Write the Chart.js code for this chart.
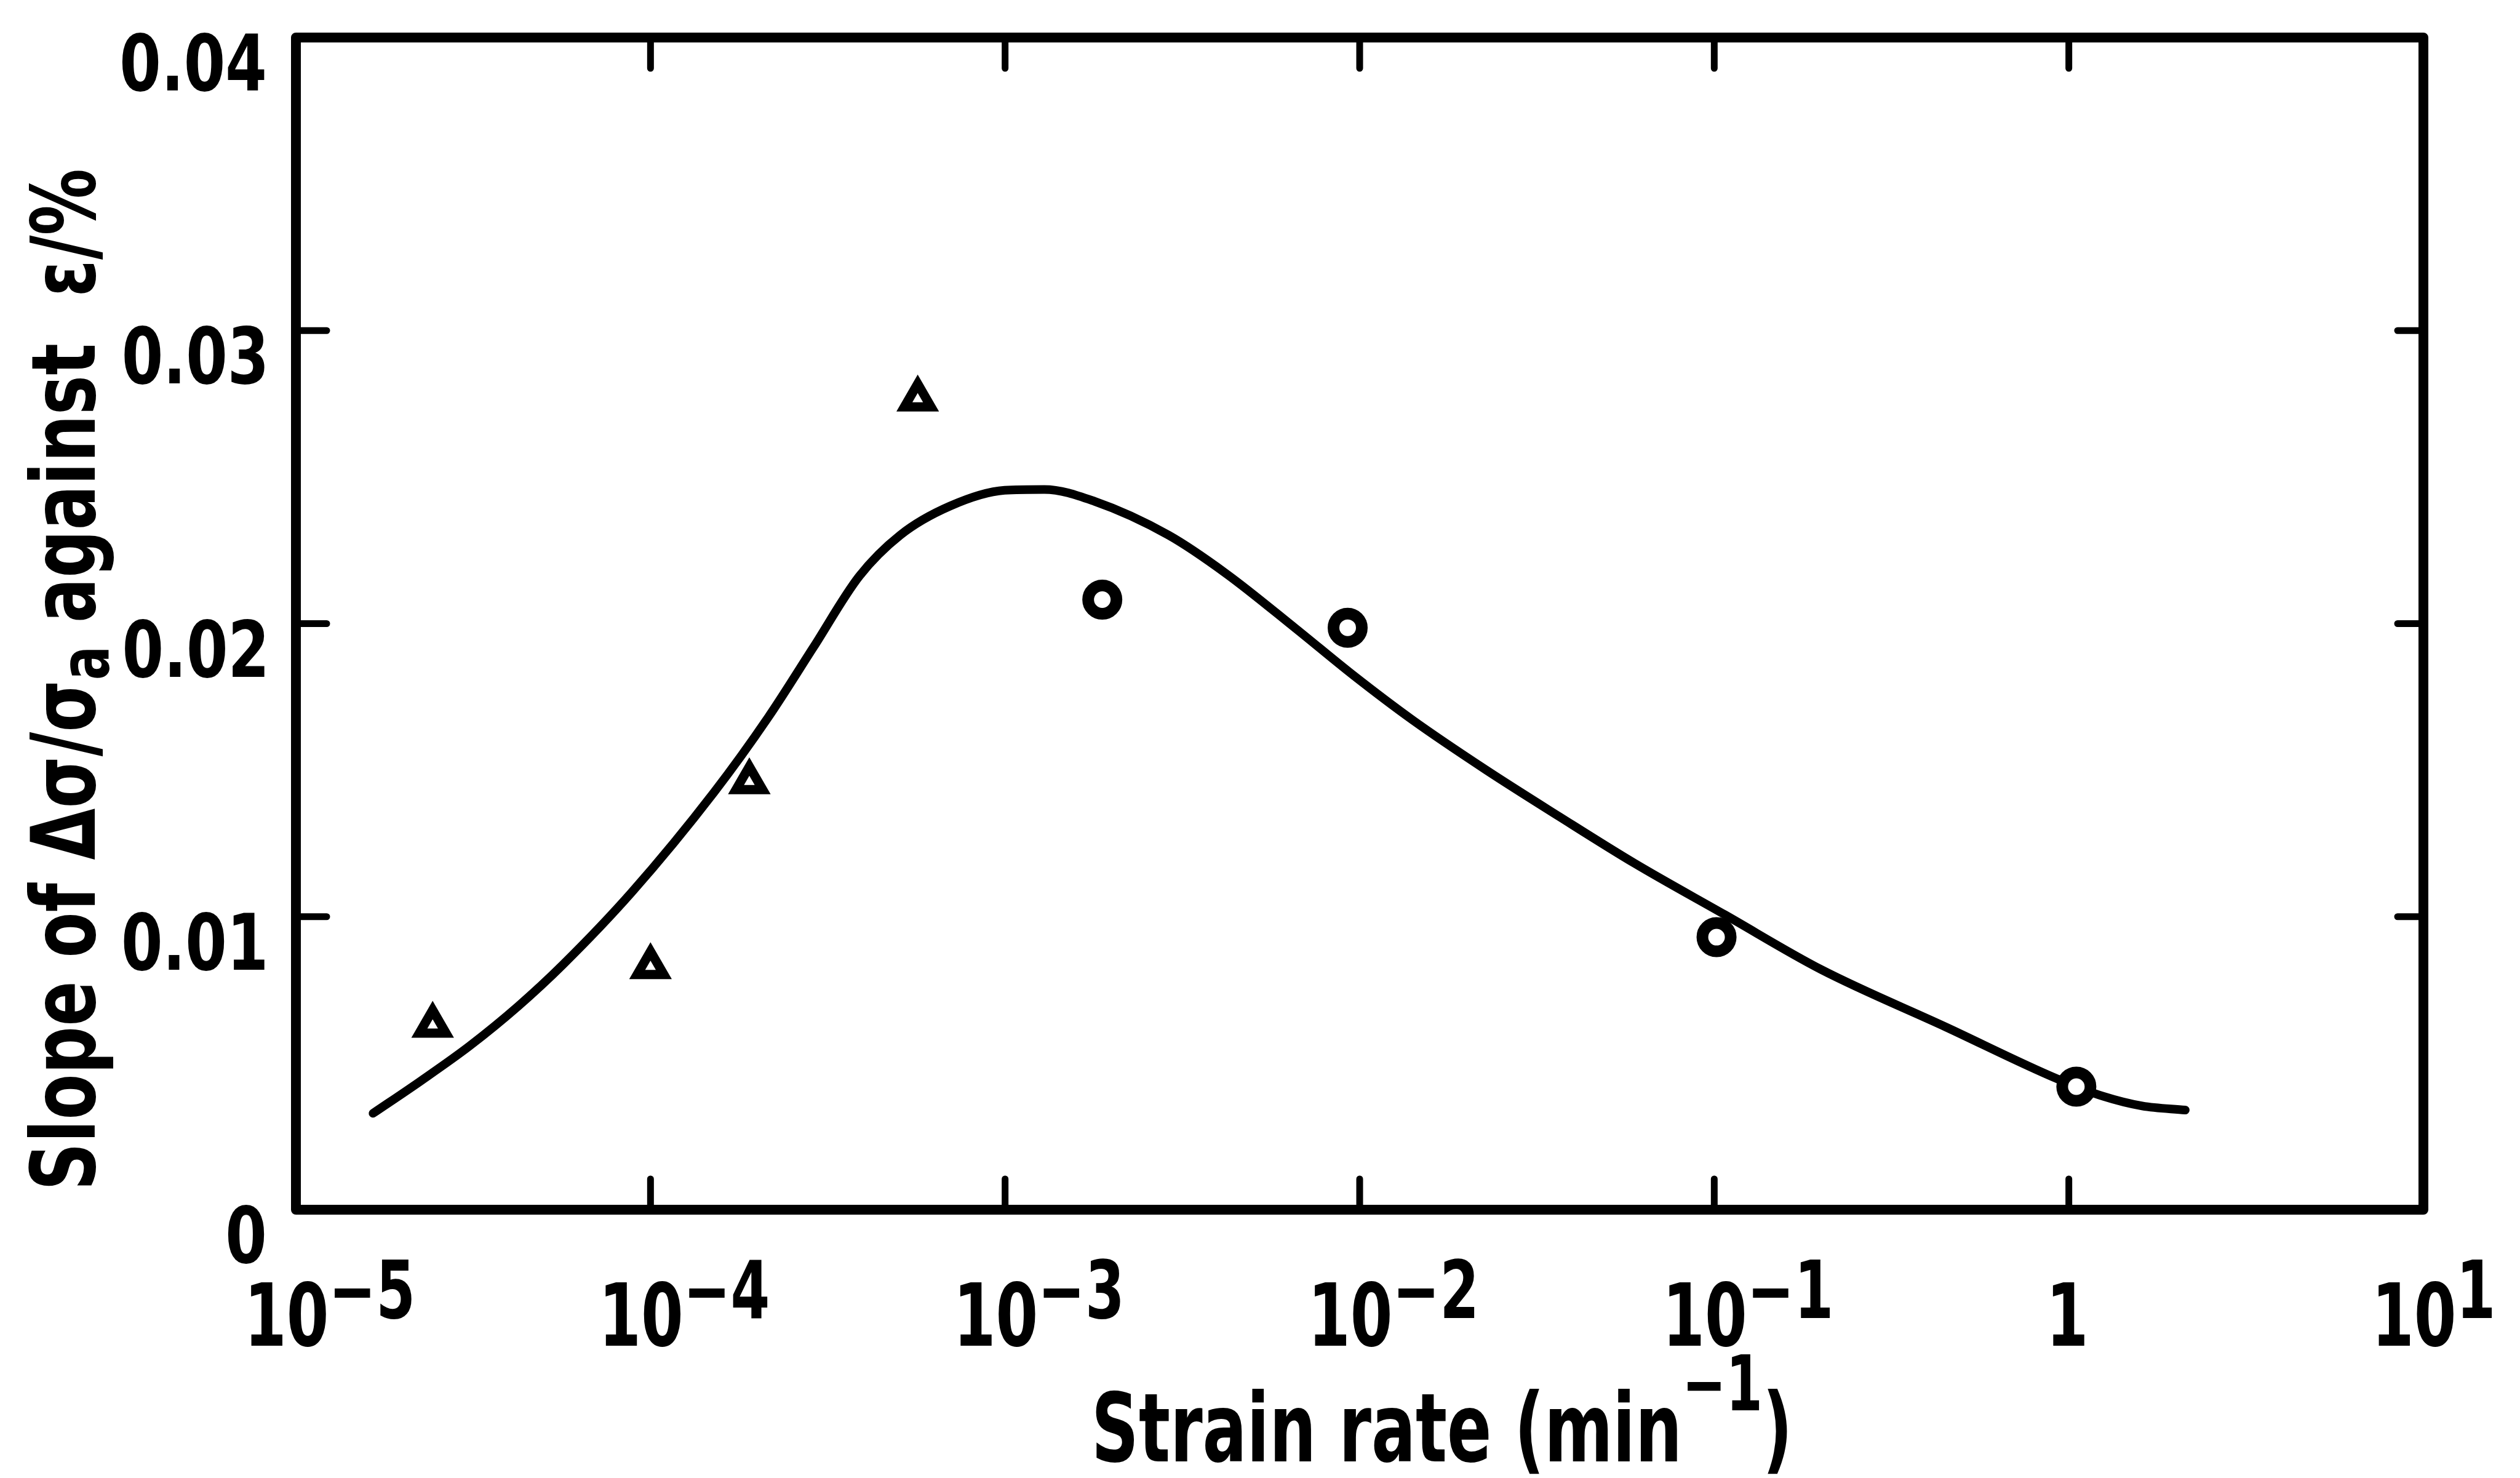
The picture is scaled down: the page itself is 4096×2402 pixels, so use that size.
<!DOCTYPE html>
<html>
<head>
<meta charset="utf-8">
<title>Slope vs strain rate</title>
<script src="https://cdn.jsdelivr.net/npm/chart.js@4.4.1/dist/chart.umd.min.js"></script>
<style>
  html, body { margin: 0; padding: 0; background: #fff; }
  #chart { display: block; }
</style>
</head>
<body>
<canvas id="chart" width="4096" height="2402"></canvas>
<script>
// fitted curve: strain rate (min^-1) and slope
const curveRate = [1.65e-5, 2.24e-5, 3.09e-5, 4.24e-5, 5.65e-5, 8.85e-5, 1.51e-4, 2.15e-4, 2.88e-4, 3.88e-4,
                   5.06e-4, 6.99e-4, 9.97e-4, 1.29e-3, 1.79e-3, 2.89e-3, 4.21e-3, 6.59e-3, 9.59e-3, 0.0141,
                   0.0227, 0.0365, 0.0596, 0.107, 0.200, 0.451, 0.926, 1.25, 1.61, 2.13];
const curveSlope = [0.00329, 0.00438, 0.00559, 0.00695, 0.00835, 0.01083, 0.01424, 0.01681, 0.01919, 0.02162,
                    0.02302, 0.02401, 0.02455, 0.02458, 0.02417, 0.02302, 0.02170, 0.01984, 0.01824, 0.01671,
                    0.01501, 0.01342, 0.01182, 0.01007, 0.00820, 0.00623, 0.00447, 0.00387, 0.00354, 0.00340];

// triangle points
const triRate = [2.43e-5, 1.0e-4, 1.90e-4, 5.67e-4];
const triSlope = [0.00629, 0.00829, 0.0146, 0.02766];

// circle points
const circRate = [1.88e-3, 9.25e-3, 0.1015, 1.05];
const circSlope = [0.02082, 0.01986, 0.0093, 0.0042];

// axes
const xTickExp = [-5, -4, -3, -2, -1, 0, 1];
const yTicks = [0, 0.01, 0.02, 0.03, 0.04];
const yTickLabels = ['0', '0.01', '0.02', '0.03', '0.04'];
const xTitle = 'Strain rate (min';
const yTitleA = 'Slope of \u0394\u03c3/\u03c3';
const yTitleSub = 'a';
const yTitleB = ' against  \u03b5/%';

const FAM = "'Liberation Sans Narrow', 'DejaVu Sans Condensed', 'Liberation Sans', sans-serif";

function pts(xs, ys) {
    return xs.map((v, i) => ({ x: v, y: ys[i] }));
}

function setFont(ctx, size) {
    ctx.font = 'bold ' + size + 'px ' + FAM;
}

function ink(ctx, str) {
    const m = ctx.measureText(str);
    return { l: m.actualBoundingBoxLeft, r: m.actualBoundingBoxRight, w: m.width };
}

// draws pieces one after another, squeezed by k horizontally
function drawRuns(ctx, runs, x, y, k) {
    let cx = x;
    runs.forEach(r => {
        setFont(ctx, r.size);
        ctx.save();
        ctx.translate(cx, y + (r.dy || 0));
        ctx.scale(k, 1);
        ctx.fillText(r.t, 0, 0);
        ctx.restore();
        cx += ctx.measureText(r.t).width * k;
    });
    return cx;
}

function runsWidth(ctx, runs) {
    let w = 0;
    runs.forEach(r => {
        setFont(ctx, r.size);
        w += ctx.measureText(r.t).width;
    });
    return w;
}

const framePlugin = {
    id: 'frame',
    afterDraw(chart) {
        const ctx = chart.ctx;
        const a = chart.chartArea;
        const x = chart.scales.x;
        const y = chart.scales.y;
        ctx.save();
        ctx.fillStyle = '#000';
        ctx.strokeStyle = '#000';
        ctx.textAlign = 'left';
        ctx.textBaseline = 'alphabetic';

        // box
        ctx.lineWidth = 16;
        ctx.lineJoin = 'round';
        ctx.strokeRect(a.left, a.top, a.right - a.left, a.bottom - a.top);

        // inward ticks
        ctx.lineWidth = 11;
        ctx.lineCap = 'round';
        ctx.beginPath();
        xTickExp.slice(1, -1).forEach(e => {
            const px = x.getPixelForValue(Math.pow(10, e));
            ctx.moveTo(px, a.bottom);
            ctx.lineTo(px, a.bottom - 50);
            ctx.moveTo(px, a.top);
            ctx.lineTo(px, a.top + 50);
        });
        yTicks.slice(1, -1).forEach(v => {
            const py = y.getPixelForValue(v);
            ctx.moveTo(a.left, py);
            ctx.lineTo(a.left + 50, py);
            ctx.moveTo(a.right, py);
            ctx.lineTo(a.right - 42, py);
        });
        ctx.stroke();

        // y tick labels
        setFont(ctx, 127);
        let m = ink(ctx, '0.03');
        const ky = 228 / (m.l + m.r);
        yTicks.forEach((v, i) => {
            const py = y.getPixelForValue(v) + 86;
            const mm = ink(ctx, yTickLabels[i]);
            const ox = a.left - 51 - ky * mm.r;
            ctx.save();
            ctx.translate(ox, py);
            ctx.scale(ky, 1);
            ctx.fillText(yTickLabels[i], 0, 0);
            ctx.restore();
        });

        // x tick labels: 10 with superscript exponent
        setFont(ctx, 140);
        m = ink(ctx, '10');
        const kx = 122 / (m.l + m.r);
        const base = a.bottom + 221;
        xTickExp.forEach(e => {
            const px = x.getPixelForValue(Math.pow(10, e));
            setFont(ctx, 140);
            if (e === 0) {
                const m1 = ink(ctx, '1');
                drawRuns(ctx, [{ t: '1', size: 140 }], px - kx * (m1.r - m1.l) / 2, base, kx);
                return;
            }
            const ox = px - 12 - kx * (m.r - m.l) / 2;
            const sup = e < 0 ? '\u2212' + (-e) : String(e);
            drawRuns(ctx, [{ t: '10', size: 140 }, { t: sup, size: 130, dy: -45 }], ox, base, kx);
        });

        // x title
        setFont(ctx, 155);
        m = ink(ctx, xTitle);
        const kt = 945 / (m.l + m.r);
        drawRuns(ctx, [
            { t: xTitle, size: 155 },
            { t: '\u22121', size: 124, dy: -83 },
            { t: ')', size: 155 }
        ], a.left + 1300 + kt * m.l, 2375, kt);

        // y title, rotated
        const yRuns = [
            { t: yTitleA, size: 145 },
            { t: yTitleSub, size: 110, dy: 22 },
            { t: yTitleB, size: 145 }
        ];
        const kyT = 1661 / runsWidth(ctx, yRuns);
        ctx.translate(154, 1935);
        ctx.rotate(-Math.PI / 2);
        drawRuns(ctx, yRuns, 0, 0, kyT);

        ctx.restore();
    }
};

new Chart(document.getElementById('chart'), {
    type: 'scatter',
    data: {
        datasets: [
            {
                label: 'triangles',
                data: pts(triRate, triSlope),
                pointStyle: 'triangle',
                pointRadius: 25,
                pointBorderWidth: 15,
                pointBorderColor: '#000',
                pointBackgroundColor: '#fff',
                showLine: false
            },
            {
                label: 'circles',
                data: pts(circRate, circSlope),
                pointStyle: 'circle',
                pointRadius: 23,
                pointBorderWidth: 19,
                pointBorderColor: '#000',
                pointBackgroundColor: '#fff',
                showLine: false
            },
            {
                label: 'curve',
                type: 'line',
                data: pts(curveRate, curveSlope),
                borderColor: '#000',
                borderWidth: 14,
                pointRadius: 0,
                cubicInterpolationMode: 'monotone',
                borderCapStyle: 'round',
                borderJoinStyle: 'round',
                fill: false
            }
        ]
    },
    options: {
        responsive: false,
        devicePixelRatio: 1,
        animation: false,
        layout: {
            padding: { left: 481, right: 157, top: 61, bottom: 436 }
        },
        plugins: {
            legend: { display: false },
            tooltip: { enabled: false }
        },
        scales: {
            x: { type: 'logarithmic', min: 1e-5, max: 10, display: false },
            y: { type: 'linear', min: 0, max: 0.04, display: false }
        }
    },
    plugins: [framePlugin]
});
</script>
</body>
</html>
